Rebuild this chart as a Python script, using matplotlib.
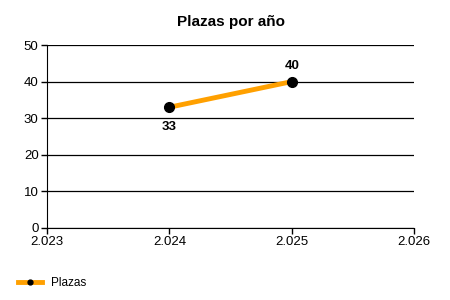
import matplotlib.pyplot as plt
from matplotlib.ticker import FuncFormatter

plt.rcParams['font.family'] = ['Liberation Sans', 'DejaVu Sans']

# datos
years = [2024, 2025]
plazas = [33, 40]
x_ticks = [2023, 2024, 2025, 2026]
y_ticks = [0, 10, 20, 30, 40, 50]

fig = plt.figure(figsize=(4.5, 3), dpi=100)
ax = fig.add_axes([0.1044, 0.24, 0.816, 0.61])

ax.plot(years, plazas, color='#FFA000', linewidth=3.5, marker='o',
        markersize=7, markerfacecolor='black', markeredgecolor='black',
        label='Plazas', zorder=3)

# etiquetas de datos: 33 debajo, 40 encima
ax.annotate(str(plazas[0]), (years[0], plazas[0]), xytext=(0, -14),
            textcoords='offset points', ha='center', va='center',
            fontsize=9.5, fontweight='bold')
ax.annotate(str(plazas[1]), (years[1], plazas[1]), xytext=(0, 11),
            textcoords='offset points', ha='center', va='center',
            fontsize=9.5, fontweight='bold')

ax.set_xlim(2023, 2026)
ax.set_ylim(0, 50)
ax.set_xticks(x_ticks)
ax.set_yticks(y_ticks)
ax.xaxis.set_major_formatter(FuncFormatter(lambda v, p: f'{v/1000:.3f}'))
ax.grid(axis='y', color='black', linewidth=0.9)
ax.set_axisbelow(True)
for s in ['top', 'right']:
    ax.spines[s].set_visible(False)
ax.tick_params(labelsize=9.5, length=4, width=1, pad=2)

ax.set_title('Plazas por año', fontsize=11, fontweight='bold', pad=14)

fig.legend(loc='lower left', bbox_to_anchor=(0.03, 0.02), frameon=False,
           fontsize=8.5, handlelength=2, markerscale=0.5, borderaxespad=0)

fig.savefig('out.png', dpi=100)
